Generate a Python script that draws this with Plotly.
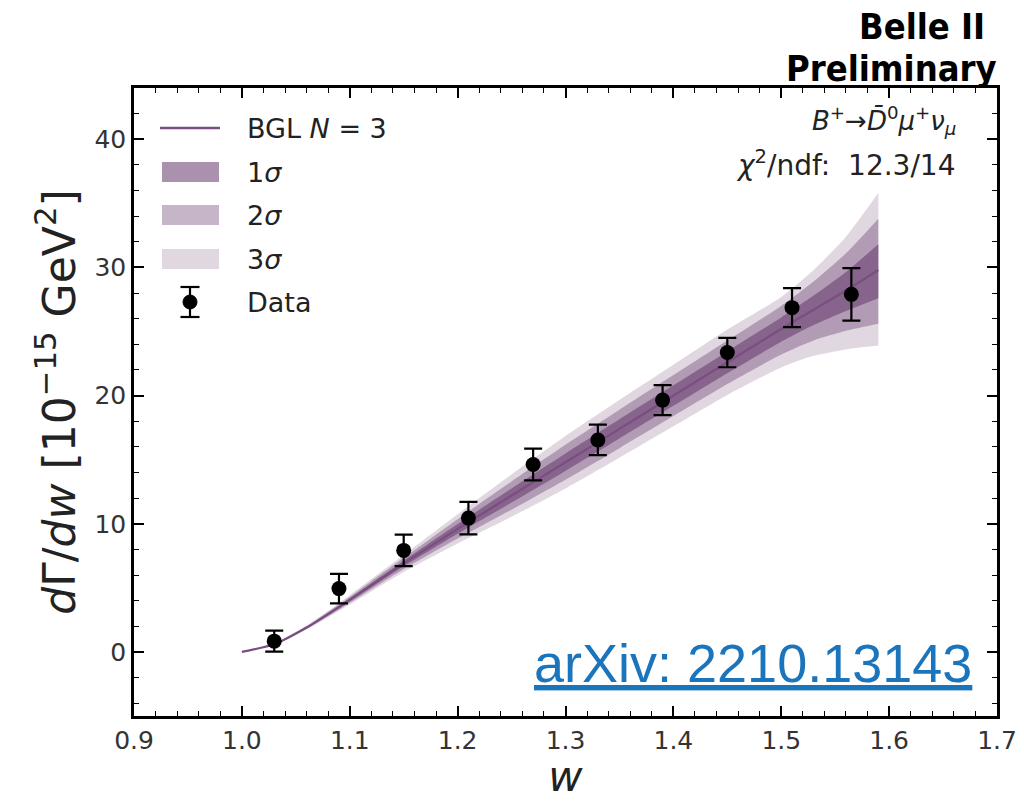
import plotly.graph_objects as go

# ---------------- data ----------------
w_fit = [1.00, 1.03, 1.06, 1.09, 1.12, 1.15, 1.20, 1.25, 1.30, 1.35, 1.40, 1.45, 1.50, 1.53, 1.56, 1.59]
bgl_central = [0.0, 0.6, 1.9, 3.5, 5.2, 6.9, 9.6, 12.2, 14.8, 17.4, 20.0, 22.6, 25.2, 26.7, 28.2, 29.8]
band1_hi = [0.0, 0.62, 1.95, 3.6, 5.36, 7.12, 9.98, 12.75, 15.48, 18.15, 20.8, 23.45, 26.1, 27.8, 29.65, 31.8]
band1_lo = [0.0, 0.58, 1.85, 3.4, 5.04, 6.68, 9.22, 11.65, 14.12, 16.65, 19.2, 21.75, 24.2, 25.5, 26.6, 27.6]
band2_hi = [0.0, 0.64, 2.0, 3.7, 5.52, 7.34, 10.36, 13.3, 16.16, 18.9, 21.6, 24.3, 27.0, 28.9, 31.1, 33.8]
band2_lo = [0.0, 0.56, 1.8, 3.3, 4.88, 6.46, 8.84, 11.1, 13.44, 15.9, 18.4, 20.9, 23.2, 24.3, 25.05, 25.6]
band3_hi = [0.0, 0.66, 2.05, 3.8, 5.68, 7.56, 10.74, 13.85, 16.84, 19.65, 22.4, 25.15, 27.7, 29.8, 32.4, 35.8]
band3_lo = [0.0, 0.54, 1.75, 3.2, 4.72, 6.24, 8.46, 10.55, 12.76, 15.15, 17.6, 20.05, 22.2, 23.1, 23.6, 23.9]

w_data = [1.03, 1.09, 1.15, 1.21, 1.27, 1.33, 1.39, 1.45, 1.51, 1.565]
y_data = [0.84, 4.94, 7.92, 10.44, 14.62, 16.54, 19.65, 23.36, 26.86, 27.9]
y_err = [0.82, 1.15, 1.23, 1.27, 1.24, 1.19, 1.17, 1.15, 1.52, 2.05]

x_ticks = [0.9, 1.0, 1.1, 1.2, 1.3, 1.4, 1.5, 1.6, 1.7]
y_ticks = [0, 10, 20, 30, 40]

legend_labels = ["BGL <i>N</i> = 3", "1<i>σ</i>", "2<i>σ</i>", "3<i>σ</i>", "Data"]

# ---------------- styles ----------------
FONT = "DejaVu Sans"
BASE = (100, 55, 105)
LINE_COLOR = "rgb(122,78,128)"
ALPHAS = {"1": 0.55, "2": 0.37, "3": 0.20}

# plot-area pixel box (for placing the hand-drawn legend)
PX_L, PX_R, PX_T, PX_B = 134, 997, 88, 716


def rgba(a):
    return "rgba(%d,%d,%d,%.2f)" % (BASE[0], BASE[1], BASE[2], a)


def px(xp):
    return (xp - PX_L) / (PX_R - PX_L)


def py(yp):
    return (PX_B - yp) / (PX_B - PX_T)


fig = go.Figure()

bands = [
    ("3σ", band3_lo, band3_hi, ALPHAS["3"]),
    ("2σ", band2_lo, band2_hi, ALPHAS["2"]),
    ("1σ", band1_lo, band1_hi, ALPHAS["1"]),
]
for name, lo, hi, alpha in bands:
    fig.add_trace(go.Scatter(
        x=w_fit, y=lo, mode="lines", line=dict(width=0, shape="spline", smoothing=0.6),
        showlegend=False, hoverinfo="skip"))
    fig.add_trace(go.Scatter(
        x=w_fit, y=hi, mode="lines", line=dict(width=0, shape="spline", smoothing=0.6),
        fill="tonexty", fillcolor=rgba(alpha), name=name, showlegend=False))

fig.add_trace(go.Scatter(
    x=w_fit, y=bgl_central, mode="lines",
    line=dict(color=LINE_COLOR, width=2.2, shape="spline", smoothing=0.6),
    name="BGL N = 3", showlegend=False))

fig.add_trace(go.Scatter(
    x=w_data, y=y_data, mode="markers",
    marker=dict(color="black", size=15),
    error_y=dict(type="data", array=y_err, color="black", thickness=2.2, width=9),
    name="Data", showlegend=False))

axis_common = dict(
    showgrid=False, zeroline=False, showline=True, linecolor="black", linewidth=2.5,
    mirror="allticks", ticks="inside", ticklen=10, tickwidth=1.5, tickcolor="black",
    tickfont=dict(family=FONT, size=25, color="#333333"), automargin=False,
)

fig.update_xaxes(
    range=[0.9, 1.7], tickvals=x_ticks, ticktext=["%.1f" % v for v in x_ticks],
    minor=dict(ticks="inside", dtick=0.02, ticklen=5, tickwidth=1, tickcolor="black"),
    title=dict(text="<i>w</i>", font=dict(family=FONT, size=42, color="#222222"), standoff=22),
    **axis_common)
fig.update_yaxes(
    range=[-5, 44], tickvals=y_ticks, ticktext=[str(v) for v in y_ticks],
    minor=dict(ticks="inside", dtick=2, ticklen=5, tickwidth=1, tickcolor="black"),
    title=dict(text="<i>d</i>Γ/<i>dw</i> [10<sup>−15</sup> GeV<sup>2</sup>]",
               font=dict(family=FONT, size=44, color="#222222"), standoff=6),
    **axis_common)

# ---------------- hand-drawn legend (matplotlib style) ----------------
row_y = [128, 172, 215, 259, 302]
sw_x0, sw_x1, txt_x = 160, 220, 245
shapes = []
annotations = []
# line entry
shapes.append(dict(type="line", xref="paper", yref="paper",
                   x0=px(sw_x0), x1=px(sw_x1), y0=py(row_y[0]), y1=py(row_y[0]),
                   line=dict(color=LINE_COLOR, width=2.5)))
# band entries
for i, key in enumerate(["1", "2", "3"]):
    yc = row_y[i + 1]
    shapes.append(dict(type="rect", xref="paper", yref="paper",
                       x0=px(sw_x0 + 2), x1=px(sw_x1 - 1), y0=py(yc + 10), y1=py(yc - 10),
                       fillcolor=rgba(ALPHAS[key]), line=dict(width=0)))
# data entry: marker with error bar
yc = row_y[4]
xc = (sw_x0 + sw_x1) / 2
shapes.append(dict(type="line", xref="paper", yref="paper",
                   x0=px(xc), x1=px(xc), y0=py(yc - 15), y1=py(yc + 15),
                   line=dict(color="black", width=2.2)))
for dy in (-15, 15):
    shapes.append(dict(type="line", xref="paper", yref="paper",
                       x0=px(xc - 9.5), x1=px(xc + 9.5), y0=py(yc + dy), y1=py(yc + dy),
                       line=dict(color="black", width=2.2)))
shapes.append(dict(type="circle", xref="paper", yref="paper",
                   x0=px(xc - 7), x1=px(xc + 7), y0=py(yc + 7), y1=py(yc - 7),
                   fillcolor="black", line=dict(color="black", width=1)))

for lab, yc in zip(legend_labels, row_y):
    annotations.append(dict(xref="paper", yref="paper", x=px(txt_x), y=py(yc),
                            xanchor="left", yanchor="middle", showarrow=False, text=lab,
                            font=dict(family=FONT, size=27, color="#222222")))

BELLE_FONT = dict(family="DejaVu Sans Condensed, DejaVu Sans", size=36, color="black")
annotations += [
    dict(xref="paper", yref="paper", x=px(987), y=py(27), xanchor="right", yanchor="middle",
         showarrow=False, text="<b>Belle II</b>", font=BELLE_FONT),
    dict(xref="paper", yref="paper", x=px(999), y=py(68), xanchor="right", yanchor="middle",
         showarrow=False, text="<b>Preliminary</b>", font=BELLE_FONT),
    dict(xref="paper", yref="paper", x=px(958), y=py(120), xanchor="right", yanchor="middle",
         showarrow=False,
         text="<i>B</i><sup>+</sup>→<i>D̄</i><sup>0</sup><i>μ</i><sup>+</sup><i>ν</i><sub><i>μ</i></sub>",
         font=dict(family=FONT, size=26, color="#222222")),
    dict(xref="paper", yref="paper", x=px(958), y=py(163), xanchor="right", yanchor="middle",
         showarrow=False, text="<i>χ</i><sup>2</sup>/ndf:&nbsp; 12.3/14",
         font=dict(family=FONT, size=28, color="#222222")),
    dict(xref="paper", yref="paper", x=px(974), y=py(663), xanchor="right", yanchor="middle",
         showarrow=False, text="<u>arXiv: 2210.13143</u>",
         font=dict(family="Liberation Sans", size=54, color="#1b75bc")),
]

fig.update_layout(
    width=1024, height=801,
    margin=dict(l=PX_L, r=1024 - PX_R, t=PX_T, b=801 - PX_B),
    plot_bgcolor="white", paper_bgcolor="white",
    font=dict(family=FONT, color="#222222"),
    showlegend=False,
    shapes=shapes,
    annotations=annotations,
)

fig.write_html("out.html")
